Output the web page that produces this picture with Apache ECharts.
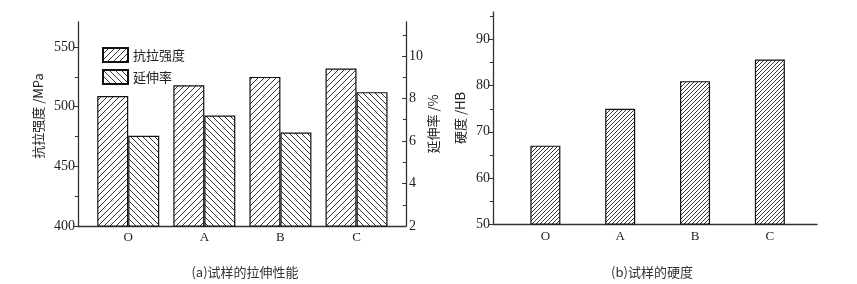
<!DOCTYPE html>
<html><head><meta charset="utf-8">
<script src="https://cdn.jsdelivr.net/npm/echarts@6/dist/echarts.min.js"></script>
<style>html,body{margin:0;padding:0;background:#fff}#c{width:857px;height:284px}</style>
</head><body><div id="c"></div>
<script>
const categories = ['O', 'A', 'B', 'C'];
const strength = [509, 518, 525, 532];        // 抗拉强度 /MPa
const elongation = [6.25, 7.2, 6.4, 8.3];     // 延伸率 /%
const hardness = [67, 75, 81, 85.7];           // 硬度 /HB
const strengthTicks = [400, 450, 500, 550];
const elongTicks = [2, 4, 6, 8, 10];
const hardTicks = [50, 60, 70, 80, 90];

function hatch(p, dir, lw, color) {
  const c = document.createElement('canvas');
  c.width = p; c.height = p;
  const g = c.getContext('2d');
  g.fillStyle = '#fff'; g.fillRect(0, 0, p, p);
  g.strokeStyle = color; g.lineWidth = lw; g.beginPath();
  if (dir === '/') {
    g.moveTo(-1, p + 1); g.lineTo(p + 1, -1);
    g.moveTo(-1, 1); g.lineTo(1, -1);
    g.moveTo(p - 1, p + 1); g.lineTo(p + 1, p - 1);
  } else {
    g.moveTo(-1, -1); g.lineTo(p + 1, p + 1);
    g.moveTo(p - 1, -1); g.lineTo(p + 1, 1);
    g.moveTo(-1, p - 1); g.lineTo(1, p + 1);
  }
  g.stroke();
  return { image: c, repeat: 'repeat' };
}

const pFwd = hatch(6, '/', 1, '#333');
const pBack = hatch(6, '\\', 1, '#333');
const pDense = hatch(4, '/', 1, '#333');

const serif = 'Liberation Serif';
const cjk = 'Noto Sans CJK SC';
const axisColor = '#333';

function yLabel(vals) {
  return { customValues: vals, margin: 3,
    formatter: v => '{n|' + v + '}',
    rich: { n: { fontFamily: serif, fontSize: 14, color: '#222' } },
    fontFamily: serif, fontSize: 14, color: '#222' };
}

const chart = echarts.init(document.getElementById('c'));
chart.setOption({
  animation: false,
  backgroundColor: '#fff',
  textStyle: { fontFamily: serif },
  title: [
    { text: '(a)试样的拉伸性能', left: 240, top: 261, textAlign: 'center',
      textStyle: { fontFamily: cjk, fontSize: 13, fontWeight: 'normal', color: '#333' } },
    { text: '(b)试样的硬度', left: 647, top: 261, textAlign: 'center',
      textStyle: { fontFamily: cjk, fontSize: 13, fontWeight: 'normal', color: '#333' } }
  ],
  legend: {
    data: ['抗拉强度', '延伸率'],
    orient: 'vertical', left: 97, top: 42, itemWidth: 25, itemHeight: 14, itemGap: 6,
    icon: 'rect',
    textStyle: { fontFamily: cjk, fontSize: 13, color: '#222' }
  },
  grid: [
    { left: 78, right: 451, top: 22, bottom: 58 },
    { left: 493, right: 40, top: 12, bottom: 60 }
  ],
  xAxis: [
    { gridIndex: 0, type: 'value', min: -0.66, max: 3.65,
      axisLine: { show: true, onZero: false, lineStyle: { color: axisColor, width: 1.3 } },
      axisTick: { show: false }, splitLine: { show: false },
      axisLabel: { customValues: [0, 1, 2, 3], formatter: v => categories[Math.round(v)],
        fontFamily: serif, fontSize: 13, color: '#222', margin: 5 } },
    { gridIndex: 1, type: 'value', min: -0.70, max: 3.63,
      axisLine: { show: true, onZero: false, lineStyle: { color: axisColor, width: 1.3 } },
      axisTick: { show: false }, splitLine: { show: false },
      axisLabel: { customValues: [0, 1, 2, 3], formatter: v => categories[Math.round(v)],
        fontFamily: serif, fontSize: 13, color: '#222', margin: 6 } }
  ],
  yAxis: [
    { gridIndex: 0, type: 'value', position: 'left', min: 400, max: 571, interval: 50,
      name: '抗拉强度 /MPa', nameLocation: 'middle', nameGap: 33, nameRotate: 90,
      nameTextStyle: { fontFamily: cjk, fontSize: 13, color: '#222', padding: [0, 0, 0, 16] },
      axisLine: { show: true, onZero: false, lineStyle: { color: axisColor, width: 1.3 } },
      axisTick: { show: true, inside: false, length: 4, customValues: strengthTicks, lineStyle: { color: axisColor } },
      minorTick: { show: true, splitNumber: 2, length: 3, lineStyle: { color: axisColor } },
      splitLine: { show: false },
      axisLabel: yLabel(strengthTicks) },
    { gridIndex: 0, type: 'value', position: 'right', min: 2, max: 11.6, interval: 2,
      name: '延伸率 /%', nameLocation: 'middle', nameGap: 19, nameRotate: 90,
      nameTextStyle: { fontFamily: cjk, fontSize: 13, color: '#222' },
      axisLine: { show: true, onZero: false, lineStyle: { color: axisColor, width: 1.3 } },
      axisTick: { show: true, inside: true, length: 4, customValues: elongTicks, lineStyle: { color: axisColor } },
      minorTick: { show: true, splitNumber: 2, length: 3, lineStyle: { color: axisColor } },
      splitLine: { show: false },
      axisLabel: yLabel(elongTicks) },
    { gridIndex: 1, type: 'value', position: 'left', min: 50, max: 96, interval: 10,
      name: '硬度 /HB', nameLocation: 'middle', nameGap: 26, nameRotate: 90,
      nameTextStyle: { fontFamily: cjk, fontSize: 13, color: '#222' },
      axisLine: { show: true, onZero: false, lineStyle: { color: axisColor, width: 1.3 } },
      axisTick: { show: true, inside: false, length: 4, customValues: hardTicks, lineStyle: { color: axisColor } },
      minorTick: { show: true, splitNumber: 2, length: 3, lineStyle: { color: axisColor } },
      splitLine: { show: false },
      axisLabel: yLabel(hardTicks) }
  ],
  series: [
    { name: '抗拉强度', type: 'bar', xAxisIndex: 0, yAxisIndex: 0, barWidth: 31, barGap: '0%',
      data: strength.map((v, i) => [i, v]),
      itemStyle: { color: pFwd, borderColor: '#111', borderWidth: 1.2 } },
    { name: '延伸率', type: 'bar', xAxisIndex: 0, yAxisIndex: 1, barWidth: 31, barGap: '0%',
      data: elongation.map((v, i) => [i, v]),
      itemStyle: { color: pBack, borderColor: '#111', borderWidth: 1.2 } },
    { name: '硬度', type: 'bar', xAxisIndex: 1, yAxisIndex: 2, barWidth: 30,
      data: hardness.map((v, i) => [i, v]),
      itemStyle: { color: pDense, borderColor: '#111', borderWidth: 1.2 } }
  ]
});
</script></body></html>
